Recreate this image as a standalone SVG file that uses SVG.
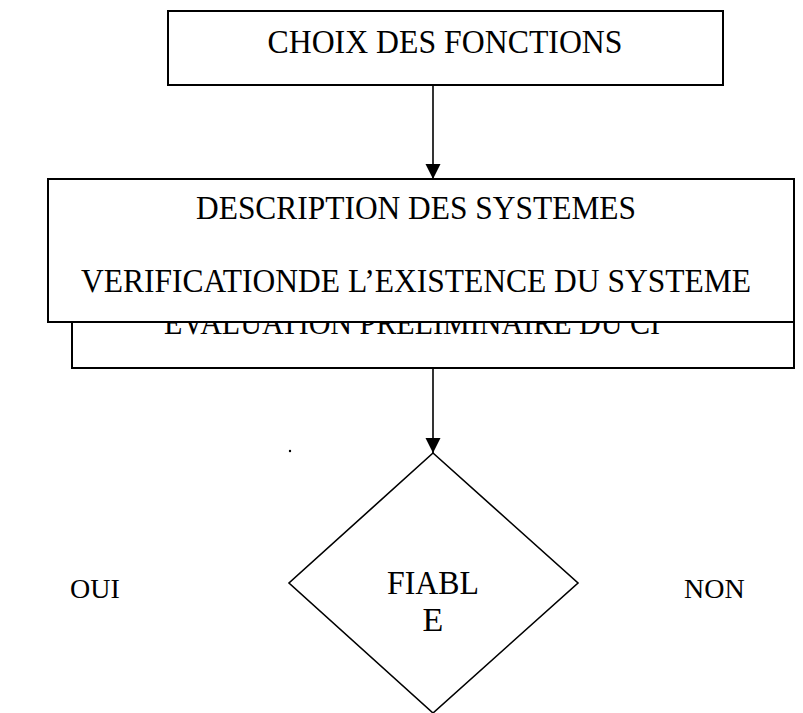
<svg xmlns="http://www.w3.org/2000/svg" width="803" height="713" viewBox="0 0 803 713">
<style>
.box{fill:#fff;stroke:#000;stroke-width:2}
.dia{fill:#fff;stroke:#000;stroke-width:1.6}
.t{font-family:"Liberation Serif","Times New Roman",serif;font-size:34px;fill:#000;text-anchor:middle}
.s{font-family:"Liberation Serif","Times New Roman",serif;font-size:28px;fill:#000}
.con{stroke:#000;stroke-width:1.6;fill:none}
</style>
<defs>
<marker id="ah" markerUnits="userSpaceOnUse" markerWidth="15" markerHeight="16" viewBox="0 0 16 16" refX="16" refY="8" orient="auto">
<path d="M0,0 L16,8 L0,16 Z" fill="#000"/>
</marker>
</defs>
<rect width="803" height="713" fill="#fff"/>
<g id="n1">
<rect class="box" x="168" y="11" width="555" height="74"/>
<text class="t" x="445" y="53" textLength="355" lengthAdjust="spacingAndGlyphs">CHOIX DES FONCTIONS</text>
</g>
<g id="n3">
<rect class="box" x="72" y="290" width="722" height="78"/>
<text class="t" x="412" y="334" textLength="496" lengthAdjust="spacingAndGlyphs">EVALUATION PRELIMINAIRE DU CI</text>
</g>
<g id="n2">
<rect class="box" x="48" y="179" width="746" height="143"/>
<text class="t" x="416" y="219" textLength="440" lengthAdjust="spacingAndGlyphs">DESCRIPTION DES SYSTEMES</text>
<text class="t" x="416" y="292" textLength="670" lengthAdjust="spacingAndGlyphs">VERIFICATIONDE L’EXISTENCE DU SYSTEME</text>
</g>
<g id="n4">
<polygon class="dia" points="433,453 578,583 433,713 289,583"/>
<text class="t" x="433" y="594" textLength="92" lengthAdjust="spacingAndGlyphs">FIABL</text>
<text class="t" x="433" y="631">E</text>
</g>
<g id="labels">
<text class="s" x="70" y="598">OUI</text>
<text class="s" x="684" y="598">NON</text>
<circle cx="290" cy="451" r="1.2" fill="#000"/>
</g>
<g id="connectors">
<line class="con" x1="433" y1="85" x2="433" y2="179" marker-end="url(#ah)"/>
<line class="con" x1="433" y1="368" x2="433" y2="453" marker-end="url(#ah)"/>
</g>
</svg>
